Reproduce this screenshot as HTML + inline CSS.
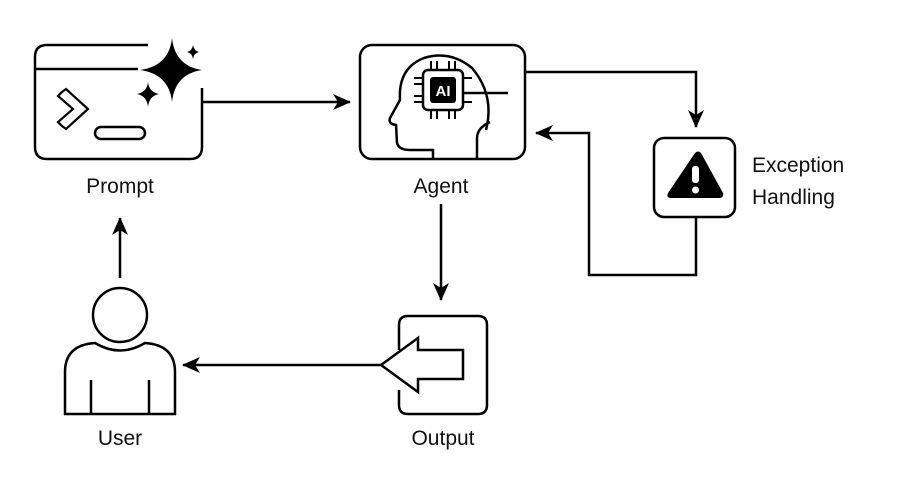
<!DOCTYPE html>
<html><head><style>
body{margin:0;background:#fff;}
svg text{font-family:"Liberation Sans",Arial,sans-serif;font-size:21px;fill:#111;}
</style></head><body>
<svg width="904" height="486" viewBox="0 0 904 486" xmlns="http://www.w3.org/2000/svg">
<defs>
<marker id="b" markerWidth="18" markerHeight="16" refX="17" refY="8" orient="auto" markerUnits="userSpaceOnUse" viewBox="0 0 18 16"><path d="M0,0 L18,8 L0,16 L5,8 Z" fill="#000"/></marker></defs>
<g fill="none" stroke="#000" stroke-width="2.5">
<!-- Prompt -->
<path d="M148,45 H47 Q35,45 35,57 V147 Q35,159 47,159 H190 Q202,159 202,147 V88"/>
<line x1="35" y1="69" x2="138" y2="69"/>
<path d="M62,92 l4,-3 l22,20 l-22,20 l-4,-3 l-4,-4 l15,-13 l-15,-13 z" stroke-width="2.2"/>
<rect x="95" y="127" width="50" height="12" rx="6"/>
<!-- Agent -->
<rect x="360" y="45" width="165" height="114" rx="12"/>
<path d="M486,130 Q495,95 472,68 Q450,50 424,58 Q398,68 400,100 L390,118 Q388,124 396,125 L397,143 Q399,150 410,150 L433,150 V159"/>
<path d="M477,159 V138 Q477,128 490,122"/>
<rect x="423" y="70" width="40" height="40" rx="5"/>
<line x1="463" y1="93" x2="508" y2="93"/>
<path d="M414,78 h9 M414,84 h9 M414,96 h9 M414,102 h9 M463,78 h9 M463,102 h9 M431,61 v9 M437,61 v9 M449,61 v9 M455,61 v9 M431,110 v9 M437,110 v9 M449,110 v9 M455,110 v9" stroke-width="2"/>
<!-- Exception -->
<rect x="654" y="138" width="81" height="79" rx="10"/>
<!-- Output -->
<path d="M399,350 V325 Q399,316 408,316 H478 Q487,316 487,325 V405 Q487,414 478,414 H408 Q399,414 399,405 V390"/>
<path d="M381,365 L418,338 V350 H463 V379 H418 V392 Z"/>
<!-- User -->
<circle cx="120" cy="315" r="27"/>
<path d="M65,414 V372 Q65,345 95,343 Q120,358 145,343 Q175,345 175,372 V414 Z"/>
<line x1="91" y1="380" x2="91" y2="414"/><line x1="149" y1="380" x2="149" y2="414"/>
<!-- connectors -->
<line x1="202" y1="102" x2="350" y2="102" marker-end="url(#b)"/>
<path d="M525,72 H696 V127" marker-end="url(#b)"/>
<path d="M696,217 V275 H589 V133 H536" marker-end="url(#b)"/>
<line x1="441" y1="204" x2="441" y2="300" marker-end="url(#b)"/>
<line x1="381" y1="365" x2="183" y2="365" marker-end="url(#b)"/>
<line x1="120" y1="278" x2="120" y2="218" marker-end="url(#b)"/>
</g>
<rect x="430" y="77" width="26" height="26" rx="3" fill="#000"/>
<text x="443" y="96" text-anchor="middle" style="font-size:15px;font-weight:bold;fill:#fff">AI</text>
<path d="M172,38 Q175,66 202,70 Q175,74 172,102 Q169,74 140,70 Q169,66 172,38 Z" fill="#000"/>
<path d="M148,82 Q149,92 159,94 Q149,96 148,107 Q147,96 137,94 Q147,92 148,82 Z" fill="#000"/>
<path d="M193,45 Q194,51 199,52 Q194,53 193,59 Q192,53 187,52 Q192,51 193,45 Z" fill="#000"/>
<path d="M695,153 Q698,150 701,153 L723,193 Q724,198 719,198 L671,198 Q666,198 668,193 Z" fill="#000"/>
<rect x="692" y="166" width="7" height="17" rx="3" fill="#fff"/>
<circle cx="695.5" cy="190" r="3.5" fill="#fff"/>
<text x="120" y="193" text-anchor="middle">Prompt</text>
<text x="441" y="193" text-anchor="middle">Agent</text>
<text x="443" y="445" text-anchor="middle">Output</text>
<text x="120" y="445" text-anchor="middle">User</text>
<text x="752" y="172">Exception</text>
<text x="752" y="204">Handling</text>
</svg>
</body></html>
